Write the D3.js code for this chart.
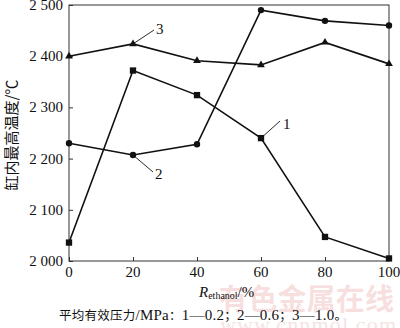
<!DOCTYPE html>
<html>
<head>
<meta charset="utf-8">
<script src="https://cdn.jsdelivr.net/npm/d3@7"></script>
<style>
  body { margin: 0; background: #fff; }
  svg { display: block; }
  text { font-family: "Liberation Serif", "DejaVu Serif", serif; fill: #111; }
  .cjk { font-family: "Noto Sans CJK SC", sans-serif; }
</style>
</head>
<body>
<svg width="400" height="328"></svg>
<script>
// 乙醇比例 (%) 与缸内最高温度 (℃)
const ratios = [0, 20, 40, 60, 80, 100];
const temp1 = [2036, 2372, 2324, 2240, 2047, 2005]; // 0.2 MPa
const temp2 = [2230, 2207, 2228, 2490, 2469, 2460]; // 0.6 MPa
const temp3 = [2400, 2424, 2391, 2383, 2427, 2385]; // 1.0 MPa
const xTicks = [0, 20, 40, 60, 80, 100];
const yTicks = [2000, 2100, 2200, 2300, 2400, 2500];
const yTickLabels = ["2 000", "2 100", "2 200", "2 300", "2 400", "2 500"];

const svg = d3.select("svg");
const plot = { left: 69, right: 389, top: 5, bottom: 261 };

const x = d3.scaleLinear().domain([0, 100]).range([plot.left, plot.right]);
const y = d3.scaleLinear().domain([2000, 2500]).range([plot.bottom, plot.top]);

// 水印（放在最底层）
svg.append("text")
  .attr("class", "cjk")
  .attr("x", 219).attr("y", 310)
  .attr("font-size", 29).attr("font-weight", "bold")
  .attr("textLength", 175)
  .style("fill", "#f8dfdf")
  .text("有色金属在线");
svg.append("text")
  .attr("x", 220).attr("y", 332)
  .attr("font-size", 22)
  .attr("textLength", 176)
  .style("fill", "#f4e4e4")
  .text("www.cnnmol.com");

// 外框
svg.append("rect")
  .attr("x", plot.left).attr("y", plot.top)
  .attr("width", plot.right - plot.left).attr("height", plot.bottom - plot.top)
  .attr("fill", "none").attr("stroke", "#333").attr("stroke-width", 1);

// 坐标轴（刻度朝内）
const xAxis = svg.append("g")
  .attr("transform", "translate(0," + plot.bottom + ")")
  .call(d3.axisTop(x).tickValues(xTicks).tickSize(4).tickFormat(""));
xAxis.select(".domain").remove();
xAxis.selectAll("line").attr("stroke", "#333");
svg.selectAll(null).data(xTicks).enter().append("text")
  .attr("x", (d) => x(d)).attr("y", 277)
  .attr("text-anchor", "middle")
  .attr("font-size", 15)
  .text((d) => d);

const yAxis = svg.append("g")
  .attr("transform", "translate(" + plot.left + ",0)")
  .call(d3.axisRight(y).tickValues(yTicks).tickSize(4).tickFormat(""));
yAxis.select(".domain").remove();
yAxis.selectAll("line").attr("stroke", "#333");
svg.selectAll(null).data(yTicks).enter().append("text")
  .attr("x", 63).attr("y", (d) => y(d) + 5)
  .attr("text-anchor", "end")
  .attr("font-size", 15)
  .text((d, i) => yTickLabels[i]);

// 曲线
const series = [
  { name: "1", values: temp1, marker: d3.symbolSquare, size: 40 },
  { name: "2", values: temp2, marker: d3.symbolCircle, size: 32 },
  { name: "3", values: temp3, marker: d3.symbolTriangle, size: 26 },
];
const line = d3.line()
  .x((d, i) => x(ratios[i]))
  .y((d) => y(d));

series.forEach((s) => {
  svg.append("path")
    .datum(s.values)
    .attr("fill", "none")
    .attr("stroke", "#111")
    .attr("stroke-width", 1.6)
    .attr("d", line);
  svg.selectAll(null).data(s.values).enter().append("path")
    .attr("transform", (d, i) => "translate(" + x(ratios[i]) + "," + y(d) + ")")
    .attr("d", d3.symbol().type(s.marker).size(s.size))
    .attr("fill", "#111");
});

// 曲线标注
const notes = [
  { text: "3", at: [20, temp3[1]], end: [154, 30], tx: 156, ty: 34 },
  { text: "1", at: [60, temp1[3]], end: [280, 121], tx: 283, ty: 129 },
  { text: "2", at: [20, temp2[1]], end: [153, 172], tx: 155, ty: 179 },
];
notes.forEach((n) => {
  svg.append("line")
    .attr("x1", x(n.at[0])).attr("y1", y(n.at[1]))
    .attr("x2", n.end[0]).attr("y2", n.end[1])
    .attr("stroke", "#111").attr("stroke-width", 0.9);
  svg.append("text")
    .attr("x", n.tx).attr("y", n.ty)
    .attr("font-size", 15)
    .text(n.text);
});

// 轴标题
const xt = svg.append("text")
  .attr("x", 199).attr("y", 297)
  .attr("font-size", 15);
xt.append("tspan").attr("font-style", "italic").text("R");
xt.append("tspan").attr("font-size", 10).attr("dy", 2).text("ethanol");
xt.append("tspan").attr("dy", -2).text("/%");

svg.append("text")
  .attr("class", "cjk")
  .attr("transform", "translate(17,135) rotate(-90)")
  .attr("text-anchor", "middle")
  .attr("font-size", 15)
  .text("缸内最高温度/℃");

// 图注：中文 12.5px，数字 15px
const cap = svg.append("text")
  .attr("x", 59).attr("y", 320)
  .attr("font-size", 15)
  .attr("textLength", 288)
  .attr("lengthAdjust", "spacing");
const capParts = [
  ["cjk", "平均有效压力"], ["", "/MPa"], ["cjk", "："],
  ["", "1—0.2"], ["cjk", "；"], ["", "2—0.6"], ["cjk", "；"],
  ["", "3—1.0"], ["cjk", "。"],
];
capParts.forEach(([cls, t]) => {
  cap.append("tspan")
    .attr("class", cls || null)
    .attr("font-size", cls ? 12.5 : 15)
    .text(t);
});
</script>
</body>
</html>
